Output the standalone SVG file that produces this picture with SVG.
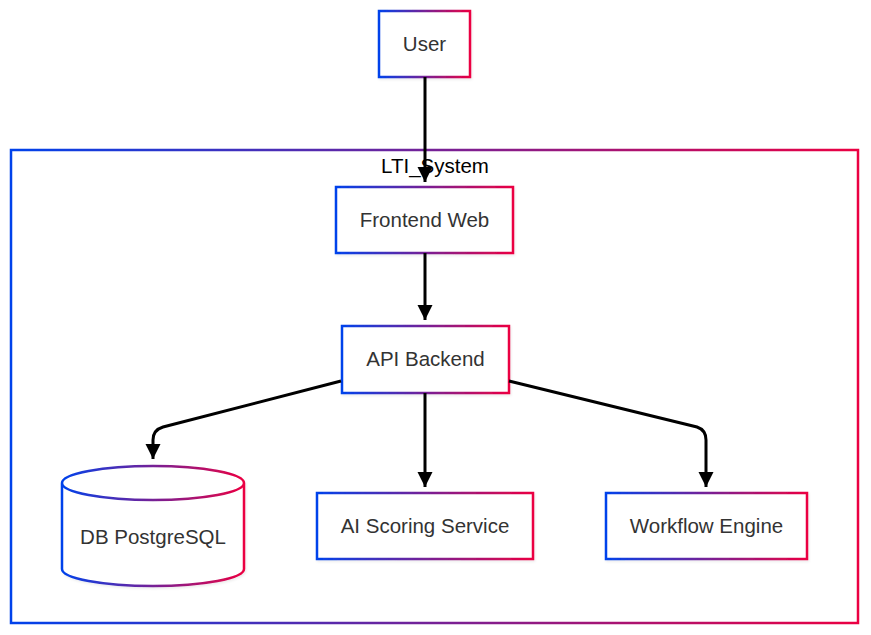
<svg xmlns="http://www.w3.org/2000/svg" width="871" height="635" viewBox="0 0 871 635">
<style>
.node{fill:#ffffff;stroke:url(#grad);stroke-width:2.5;filter:url(#shadow)}
.cluster{fill:#ffffff;stroke:url(#grad);stroke-width:2.5}
.lbl{font-family:"Liberation Sans",Arial,sans-serif;font-size:20.5px;fill:#333333;text-anchor:middle;dominant-baseline:central}
.clbl{font-family:"Liberation Sans",Arial,sans-serif;font-size:20.5px;fill:#000000;text-anchor:middle}
.edge{fill:none;stroke:#000000;stroke-width:3;marker-end:url(#arrow)}
</style>
<defs>
<linearGradient id="grad" x1="0" y1="0" x2="1" y2="0">
<stop offset="0" stop-color="#0042eb"/>
<stop offset="1" stop-color="#eb0042"/>
</linearGradient>
<filter id="shadow" x="-10%" y="-10%" width="120%" height="130%">
<feDropShadow dx="1" dy="1.5" stdDeviation="1" flood-color="#000000" flood-opacity="0.08"/>
</filter>
<marker id="arrow" viewBox="0 0 10 10" refX="10" refY="5" markerWidth="15" markerHeight="17" markerUnits="userSpaceOnUse" orient="auto">
<path d="M0,0 L10,5 L0,10 z" fill="#000000"/>
</marker>
</defs>
<rect width="871" height="635" fill="#ffffff"/>
<g id="LTI_System">
<rect class="cluster" x="11" y="150" width="847" height="473"/>
<text class="clbl" x="435" y="173">LTI_System</text>
</g>
<g id="User">
<rect class="node" x="379" y="11" width="91" height="66"/>
<text class="lbl" x="424.5" y="43">User</text>
</g>
<g id="Frontend">
<rect class="node" x="336" y="187" width="177" height="66"/>
<text class="lbl" x="424.5" y="219">Frontend Web</text>
</g>
<g id="API">
<rect class="node" x="342" y="326" width="167" height="67"/>
<text class="lbl" x="425.5" y="358">API Backend</text>
</g>
<g id="DB">
<path class="node" d="M62,483 a91,17 0 0,0 182,0 a91,17 0 0,0 -182,0 l0,86 a91,17 0 0,0 182,0 l0,-86"/>
<text class="lbl" x="153" y="536">DB PostgreSQL</text>
</g>
<g id="AI">
<rect class="node" x="317" y="493" width="216" height="66"/>
<text class="lbl" x="425" y="525">AI Scoring Service</text>
</g>
<g id="Workflow">
<rect class="node" x="606" y="493" width="201" height="66"/>
<text class="lbl" x="706.5" y="525">Workflow Engine</text>
</g>
<g id="connectors">
<path class="edge" d="M425,77 L425,182"/>
<path class="edge" d="M425,253 L425,320"/>
<path class="edge" d="M341,381 L163,427 Q153,430 153,440 L153,459"/>
<path class="edge" d="M425,393 L425,487"/>
<path class="edge" d="M509,381 L697,427 Q706,430 706,440 L706,487"/>
</g>
</svg>
